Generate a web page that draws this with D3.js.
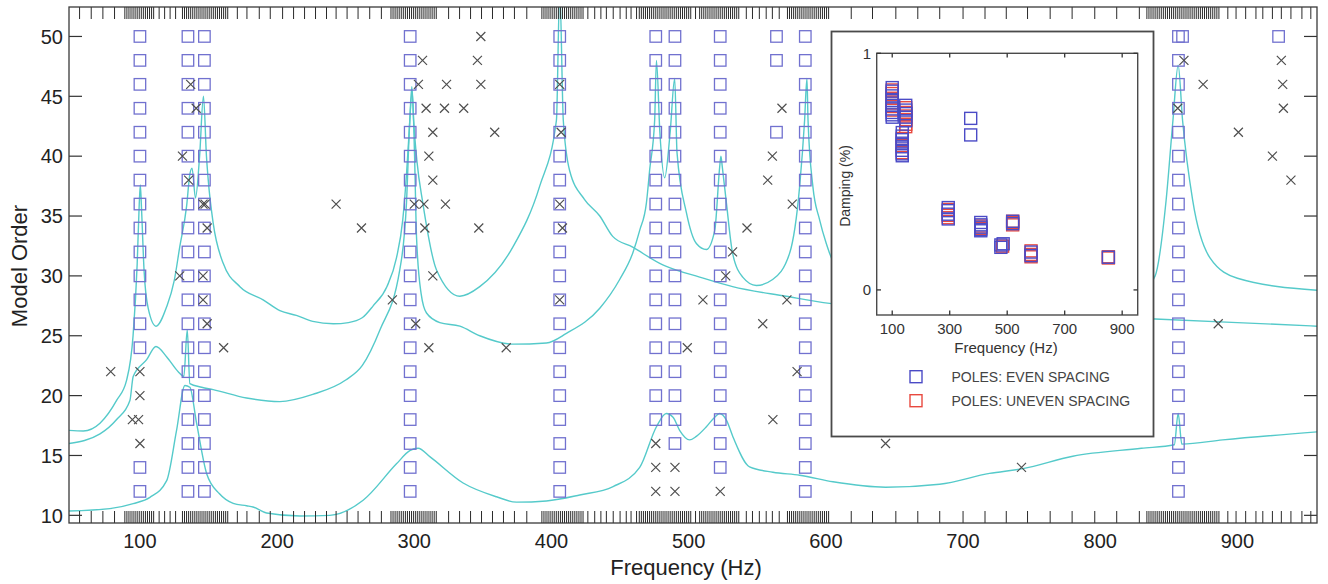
<!DOCTYPE html>
<html>
<head>
<meta charset="utf-8">
<script src="https://cdn.jsdelivr.net/npm/d3@7"></script>
<style>
  html, body { margin: 0; padding: 0; background: #fff; }
  svg { display: block; font-family: "Liberation Sans", Arial, sans-serif; }
</style>
</head>
<body>
<svg id="chart" width="1328" height="584"></svg>
<script>
// ---- axis ticks ----
const xTicks = [100, 200, 300, 400, 500, 600, 700, 800, 900];
const yTicks = [10, 15, 20, 25, 30, 35, 40, 45, 50];
const insetXTicks = [100, 300, 500, 700, 900];
const insetYTicks = [0, 1];

// ---- frequency lines (rug along top and bottom edges) ----
const rugSparse = [56, 64.5, 73, 81.5, 114, 118, 122, 126, 171, 178, 187, 195, 204, 212, 220, 228, 236,
  243, 251, 259, 267.5, 276, 325, 333, 341, 349, 357, 365, 373, 382, 426.5, 431.5, 436, 440, 445,
  450, 454.5, 458, 462, 505, 542, 546.5, 551.5, 556.5, 561, 566, 618.5, 634, 651, 667, 683, 700,
  716, 731.5, 747, 763.5, 779.5, 796, 812, 828.5, 893, 899, 906, 913.5, 918.5, 925.5, 932, 939, 947, 953.5];
const rugBands = [[89, 111], [131, 165], [283, 316], [393, 423], [464, 502], [508, 537], [572, 603], [834, 887]];
const rugBandStep = 1.5;

// ---- stable poles: frequency columns and the model orders where they appear ----
const stableFreqs = [100, 135, 147, 297, 406, 476, 490, 523, 564, 585, 857, 860, 930];
const stableOrders = [
  [12, 14, 24, 26, 28, 30, 32, 34, 36, 38, 40, 42, 44, 46, 48, 50],
  [12, 14, 16, 18, 20, 22, 24, 26, 28, 30, 32, 34, 36, 38, 40, 42, 44, 46, 48, 50],
  [12, 14, 16, 18, 20, 22, 24, 26, 28, 30, 32, 34, 36, 38, 40, 42, 44, 46, 48, 50],
  [12, 14, 16, 18, 20, 22, 24, 26, 28, 30, 32, 34, 36, 38, 40, 42, 44, 46, 48, 50],
  [12, 14, 16, 18, 20, 22, 24, 26, 28, 30, 32, 34, 36, 38, 40, 42, 44, 46, 48, 50],
  [18, 20, 22, 24, 26, 28, 30, 32, 34, 36, 38, 40, 42, 44, 46, 48, 50],
  [16, 18, 20, 22, 24, 26, 28, 30, 32, 34, 36, 38, 40, 42, 44, 46, 48, 50],
  [14, 16, 18, 20, 22, 24, 26, 28, 30, 32, 34, 36, 38, 40, 42, 44, 46, 48, 50],
  [42, 48, 50],
  [12, 14, 16, 18, 20, 22, 24, 26, 28, 30, 32, 34, 36, 38, 40, 42, 44, 46, 48, 50],
  [12, 14, 16, 18, 20, 22, 24, 26, 28, 30, 32, 34, 36, 38, 40, 42, 44, 46, 48, 50],
  [50],
  [50]
];

// ---- unstable poles (crosses) ----
const crossFreqs = [78.7, 100, 100, 94.5, 99, 100,
  137, 141, 131, 135.5, 129,
  146, 147.5, 149, 146, 146, 149, 161,
  243, 261.5,
  348.5, 306, 346, 303, 323.5, 348.5, 308.6, 322, 336, 313.5, 358.6, 310.6, 313.5,
  300, 307, 322.7, 307.7, 347, 313.5, 284, 301, 310.6, 367,
  406, 407, 406, 408, 406,
  476, 476, 476, 490, 490, 523, 499,
  542.5, 532, 527, 510.4,
  568, 561, 557.6, 575.5, 571.6, 554, 579, 561.4,
  643.5, 742.6,
  861, 875, 856.5, 900.7, 925.5, 939, 886,
  932, 933, 933.5];
const crossOrders = [22, 22, 20, 18, 18, 16,
  46, 44, 40, 38, 30,
  36, 36, 34, 30, 28, 26, 24,
  36, 34,
  50, 48, 48, 46, 46, 46, 44, 44, 44, 42, 42, 40, 38,
  36, 36, 36, 34, 34, 30, 28, 26, 24, 24,
  46, 42, 36, 34, 28,
  16, 14, 12, 14, 12, 12, 24,
  34, 32, 30, 28,
  44, 40, 38, 36, 28, 26, 22, 18,
  16, 14,
  48, 46, 44, 42, 40, 38, 26,
  48, 46, 44];

// ---- response curves drawn over the diagram: [frequency, level] ----
const curveA = [[48.3, 17.1], [58.7, 17.05], [70.9, 17.7], [83, 19.6], [90.3, 21.3], [95, 25], [98, 31],
  [99.5, 36], [100.3, 37.6], [101.2, 35.5], [103, 30.5], [106, 27.3], [111.7, 25.8], [119.4, 27.4],
  [125, 29.6], [129, 32.4], [134, 35.8], [136.4, 38.5], [138, 39], [140.5, 36.5], [143.5, 40],
  [146.3, 45], [148.5, 40], [149.8, 38], [153.4, 34.4], [160.7, 31.05], [172.9, 29.1], [189.8, 28],
  [202, 27.1], [214, 26.7], [226, 26.2], [241, 26], [252, 26.1], [262, 26.5], [270, 27.5], [280, 29.1],
  [287, 31.5], [291.6, 34.7], [294.5, 38.8], [296.5, 42.5], [298.2, 45.8], [299.5, 43], [302, 39.5],
  [306.2, 36.1], [316.2, 30.5], [333.2, 28.3], [347.7, 29.1], [371.8, 32.4], [391.4, 37.5],
  [403.6, 43], [406, 54], [408.6, 43], [413.2, 38.8], [424, 36.4], [435.2, 35], [444.6, 33.3],
  [459.2, 32.4], [478.9, 31.05], [483.7, 30.8], [508, 29.9], [532, 29.1], [571, 28.3], [602.7, 27.7],
  [650, 27.2], [750, 26.8], [840, 26.4], [900, 26.1], [958, 25.8]];
const curveB = [[48.3, 16], [70.9, 16.8], [83, 18], [92.7, 19.6], [95.1, 21.6], [104.9, 23],
  [111.7, 24.1], [119.4, 23.25], [127.9, 22], [132, 21.6], [134.5, 25.5], [136.4, 21], [145, 20.7],
  [153.4, 20.5], [177.7, 19.8], [202, 19.5], [226, 20.1], [250, 21.3], [262, 22.5], [275, 25.5],
  [289.4, 30.5], [294.3, 36.1], [296.7, 43], [298.5, 45.4], [300.2, 40], [301.6, 33.3], [305, 28.5],
  [308.9, 26.9], [318.6, 26.1], [333.2, 25.8], [347.7, 25], [371.8, 24.3], [396.3, 24.4], [410.9, 25.2],
  [435.2, 27.3], [449.7, 29.7], [459.2, 31.9], [464.3, 33.8], [469.2, 36.1], [471.6, 38.9], [475.2, 43],
  [476.5, 48], [479, 42], [482.5, 38.2], [486.5, 42], [489.8, 46.5], [491.5, 40.3], [498.3, 35.3],
  [505.6, 32.7], [512.9, 32.2], [519, 33.8], [522.6, 39.1], [523.5, 40], [524.5, 39.1], [527.5, 36.1],
  [532, 31.9], [539.4, 29.9], [549.3, 29.2], [561.2, 29.7], [573.6, 31.9], [580.9, 37.5], [584.5, 43],
  [586.2, 46.5], [587, 43], [590.5, 37.5], [595.4, 34.7], [600.3, 32.7], [602.7, 31.9], [620, 28.8],
  [680, 26.6], [760, 26.1], [820, 27.5], [840, 30], [848, 36.3], [853, 43], [856.8, 47.6], [860, 43],
  [867.4, 36.3], [880, 31.5], [900, 29.8], [958, 28.8]];
const curveC = [[48.3, 10.36], [78.1, 10.56], [95.1, 10.98], [107.3, 11.5], [119.5, 12.9], [126.7, 17.1],
  [132.8, 20.85], [136.4, 20.7], [141.3, 17.7], [148.6, 13.5], [158, 11.8], [168, 11], [177.7, 10.8],
  [182.5, 10.7], [192.3, 10.2], [216.6, 9.95], [238.4, 10], [262.7, 11.26], [287, 14.3], [296.7, 15.4],
  [302.8, 15.6], [311.3, 14.9], [335.6, 12.7], [359.9, 11.55], [374.5, 11.1], [396.3, 11.2],
  [420.6, 11.7], [444.9, 12.4], [464.3, 14], [476.5, 17.4], [483.7, 18.5], [488.6, 18.2], [493.4, 17.1],
  [500.7, 16.3], [505.6, 16.6], [512.9, 17.4], [519, 18.2], [522.6, 18.5], [527.5, 17.95],
  [532.3, 16.55], [544.4, 14.05], [561.4, 13.6], [580.9, 13.35], [605.2, 12.8], [643.5, 12.35],
  [682.9, 12.6], [719.3, 13.5], [743.6, 13.9], [780, 14.94], [830, 15.6], [854, 15.9], [856.8, 18.5],
  [859.5, 15.95], [889.3, 16.3], [958, 16.97]];

// ---- inset: damping of the identified poles, [frequency, damping values] ----
const evenPoles = [
  [100, [0.855, 0.84, 0.82, 0.8, 0.78, 0.765, 0.75, 0.74, 0.73]],
  [147, [0.78, 0.76, 0.745, 0.73, 0.715]],
  [135, [0.665, 0.65, 0.635, 0.62, 0.605, 0.59, 0.575, 0.567]],
  [373, [0.725, 0.655]],
  [295, [0.348, 0.335, 0.32, 0.3]],
  [408, [0.285, 0.275, 0.265, 0.255, 0.25]],
  [519, [0.29, 0.28]],
  [478, [0.19, 0.18]],
  [486, [0.195]],
  [583, [0.16, 0.145]],
  [852, [0.138]]
];
const unevenPoles = [
  [100, [0.845, 0.83, 0.81, 0.79, 0.775, 0.76]],
  [147, [0.77, 0.75, 0.735, 0.72, 0.7, 0.69]],
  [135, [0.64, 0.61, 0.58]],
  [295, [0.34, 0.315, 0.305]],
  [408, [0.27, 0.26]],
  [519, [0.29, 0.285, 0.275]],
  [484, [0.185]],
  [583, [0.165, 0.15, 0.14]],
  [852, [0.14, 0.135]]
];
const legendLabels = ["POLES: EVEN SPACING", "POLES: UNEVEN SPACING"];

// ---- colours ----
const poleColor = "#7171cf";
const crossColor = "#4f4f4f";
const curveColor = "#55caca";
const evenColor = "#4b4bc6";
const unevenColor = "#e8493f";

const svg = d3.select("#chart");

// main axes
const x = d3.scaleLinear().domain([48.3, 958]).range([69, 1317]);
const y = d3.scaleLinear().domain([9.36, 52.46]).range([523, 7]);

svg.append("defs").append("clipPath").attr("id", "plotClip")
  .append("rect").attr("x", 69).attr("y", 7).attr("width", 1248).attr("height", 516);

const plot = svg.append("g").attr("clip-path", "url(#plotClip)");

// response curves
const line = d3.line().x(d => x(d[0])).y(d => y(d[1])).curve(d3.curveMonotoneX);
[curveA, curveB, curveC].forEach(c => {
  plot.append("path").attr("d", line(c)).attr("fill", "none")
    .attr("stroke", curveColor).attr("stroke-width", 1.4);
});

// stable poles
const sq = 11.5;
stableFreqs.forEach((f, i) => {
  plot.selectAll(null).data(stableOrders[i]).enter().append("rect")
    .attr("x", x(f) - sq / 2).attr("y", d => y(d) - sq / 2)
    .attr("width", sq).attr("height", sq)
    .attr("fill", "none").attr("stroke", poleColor).attr("stroke-width", 1.3);
});

// unstable poles
const cr = 4.5;
plot.selectAll(null).data(crossFreqs.map((f, i) => [f, crossOrders[i]])).enter().append("path")
  .attr("d", d => {
    const cx = x(d[0]), cy = y(d[1]);
    return `M${cx - cr},${cy - cr}L${cx + cr},${cy + cr}M${cx - cr},${cy + cr}L${cx + cr},${cy - cr}`;
  })
  .attr("stroke", crossColor).attr("stroke-width", 1.2).attr("fill", "none");

// frequency-line rug
let rug = rugSparse.slice();
rugBands.forEach(b => { rug = rug.concat(d3.range(b[0], b[1] + 0.01, rugBandStep)); });
const rugG = svg.append("g").attr("stroke", "#2a2a2a").attr("stroke-width", 1);
rug.forEach(f => {
  rugG.append("line").attr("x1", x(f)).attr("x2", x(f)).attr("y1", 523).attr("y2", 511);
  rugG.append("line").attr("x1", x(f)).attr("x2", x(f)).attr("y1", 7).attr("y2", 19);
});

// y ticks both sides
const yt = svg.append("g").attr("stroke", "#333").attr("stroke-width", 1.2);
yTicks.forEach(t => {
  yt.append("line").attr("x1", 69).attr("x2", 82).attr("y1", y(t)).attr("y2", y(t));
  yt.append("line").attr("x1", 1304).attr("x2", 1317).attr("y1", y(t)).attr("y2", y(t));
});

// frame
svg.append("rect").attr("x", 69).attr("y", 7).attr("width", 1248).attr("height", 516)
  .attr("fill", "none").attr("stroke", "#3a3a3a").attr("stroke-width", 1.3);

// tick labels
svg.selectAll(null).data(yTicks).enter().append("text")
  .attr("x", 63).attr("y", d => y(d)).attr("dy", "0.36em").attr("text-anchor", "end")
  .attr("font-size", 20).attr("fill", "#222").text(d => d);
svg.selectAll(null).data(xTicks).enter().append("text")
  .attr("x", d => x(d)).attr("y", 548).attr("text-anchor", "middle")
  .attr("font-size", 20).attr("fill", "#222").text(d => d);

// axis titles
svg.append("text").attr("x", 686).attr("y", 575).attr("text-anchor", "middle")
  .attr("font-size", 22).attr("fill", "#222").text("Frequency (Hz)");
svg.append("text").attr("transform", "translate(27,266) rotate(-90)").attr("text-anchor", "middle")
  .attr("font-size", 22).attr("fill", "#222").text("Model Order");

// ---- inset ----
const inset = svg.append("g");
inset.append("rect").attr("x", 831.5).attr("y", 31.5).attr("width", 322).attr("height", 405)
  .attr("fill", "#fff").attr("stroke", "#4a4a4a").attr("stroke-width", 1.8);

const ix = d3.scaleLinear().domain([46, 954]).range([876.7, 1137.7]);
const iy = d3.scaleLinear().domain([-0.106, 1]).range([315, 53.3]);

inset.append("rect").attr("x", 876.7).attr("y", 53.3).attr("width", 261).attr("height", 261.7)
  .attr("fill", "none").attr("stroke", "#4a4a4a").attr("stroke-width", 1.4);

const itk = inset.append("g").attr("stroke", "#333").attr("stroke-width", 1.3);
insetXTicks.forEach(t => {
  itk.append("line").attr("x1", ix(t)).attr("x2", ix(t)).attr("y1", 53.3).attr("y2", 57.5);
  itk.append("line").attr("x1", ix(t)).attr("x2", ix(t)).attr("y1", 315).attr("y2", 310.5);
});
insetYTicks.forEach(t => {
  itk.append("line").attr("x1", 876.7).attr("x2", 881).attr("y1", iy(t)).attr("y2", iy(t));
  itk.append("line").attr("x1", 1137.7).attr("x2", 1133.5).attr("y1", iy(t)).attr("y2", iy(t));
});

inset.selectAll(null).data(insetXTicks).enter().append("text")
  .attr("x", d => ix(d)).attr("y", 333.5).attr("text-anchor", "middle")
  .attr("font-size", 15).attr("fill", "#333").text(d => d);
inset.selectAll(null).data(insetYTicks).enter().append("text")
  .attr("x", 871).attr("y", d => iy(d)).attr("dy", "0.36em").attr("text-anchor", "end")
  .attr("font-size", 15).attr("fill", "#333").text(d => d);
inset.append("text").attr("x", 1006).attr("y", 353).attr("text-anchor", "middle")
  .attr("font-size", 15).attr("fill", "#333").text("Frequency (Hz)");
inset.append("text").attr("transform", "translate(850,186) rotate(-90)").attr("text-anchor", "middle")
  .attr("font-size", 14).attr("fill", "#333").text("Damping (%)");

const isq = 12;
function drawPoles(groups, color) {
  groups.forEach(g => {
    inset.selectAll(null).data(g[1]).enter().append("rect")
      .attr("x", ix(g[0]) - isq / 2).attr("y", d => iy(d) - isq / 2)
      .attr("width", isq).attr("height", isq)
      .attr("fill", "none").attr("stroke", color).attr("stroke-width", 1.4);
  });
}
drawPoles(unevenPoles, unevenColor);
drawPoles(evenPoles, evenColor);

// legend
const legendColors = [evenColor, unevenColor];
legendLabels.forEach((lab, i) => {
  const ly = 376.7 + i * 24;
  inset.append("rect").attr("x", 916 - 6).attr("y", ly - 6).attr("width", 12).attr("height", 12)
    .attr("fill", "none").attr("stroke", legendColors[i]).attr("stroke-width", 1.4);
  inset.append("text").attr("x", 951.5).attr("y", ly).attr("dy", "0.36em")
    .attr("font-size", 14).attr("fill", "#444").text(lab);
});
</script>
</body>
</html>
